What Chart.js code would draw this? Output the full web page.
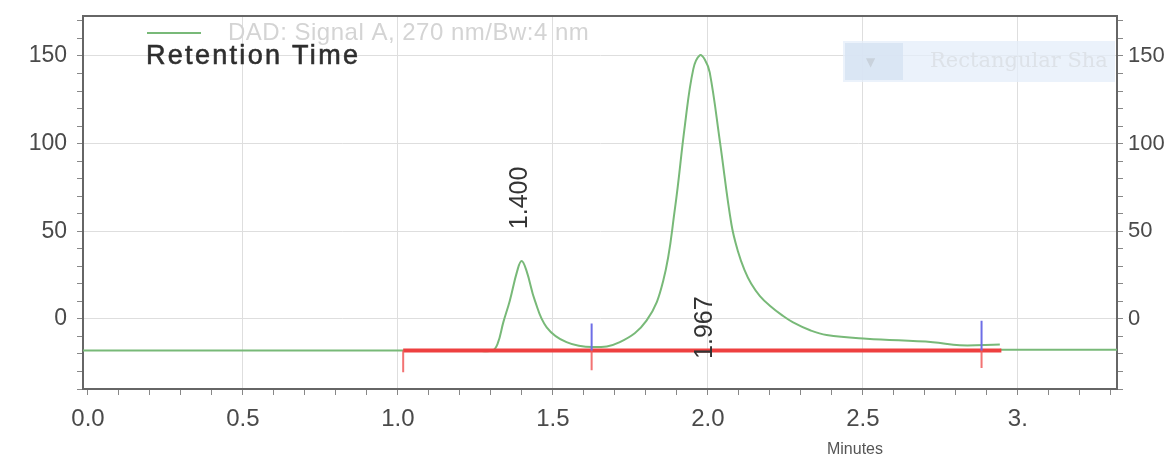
<!DOCTYPE html>
<html>
<head>
<meta charset="utf-8">
<script src="https://cdn.jsdelivr.net/npm/chart.js@4.4.1/dist/chart.umd.min.js"></script>
<style>
    body { margin: 0; background: #fff; }
    #wrap { width: 1173px; height: 459px; position: relative; }
</style>
</head>
<body>
<div id="wrap"><canvas id="chromChart" width="1173" height="459"></canvas></div>
<script>
// retention time (min) and detector response (mAU)
const signalTime = [-0.02, 1.25, 1.305, 1.322, 1.34, 1.361, 1.385, 1.399, 1.415, 1.442, 1.480, 1.544, 1.629, 1.716, 1.802, 1.856, 1.894, 1.926, 1.953, 1.974, 1.990, 2.006, 2.039, 2.076, 2.098, 2.118, 2.14, 2.168, 2.2, 2.24, 2.275, 2.33, 2.383, 2.512, 2.726, 2.813, 2.942];
const signalValue = [-18, -18, -18, -14, -2, 10.4, 27.4, 33, 27.4, 10.4, -4.8, -13.3, -16.1, -13.3, -1, 21.7, 63.2, 110.6, 142.5, 150.4, 148, 140.6, 101, 54, 38, 28, 20, 13, 7.5, 2, -2, -6.5, -9.2, -11.3, -13.3, -15.1, -14.6];
const tailTime = [2.942, 3.35];
const tailValue = [-17.6, -17.6];

// integration baseline and peak start/end markers
const baselineTime = [1.017, 2.947];
const baselineValue = [-18, -18];
const markerTime = [1.017, 1.625, 2.883];
const markerTop = [null, -2.7, -1];
const markerBottom = [-30.4, -29.3, -28];

// peak labels
const peakLabels = ['1.400', '1.967'];
const peakLabelTime = [1.394, 1.99];
const peakLabelValue = [69, -5];

const xTickValues = [0.0, 0.5, 1.0, 1.5, 2.0, 2.5, 3.0];
const xTickLabels = ['0.0', '0.5', '1.0', '1.5', '2.0', '2.5', '3.'];
const yTickValues = [0, 50, 100, 150];

const GREEN = 'rgb(120,185,120)';
const RED = 'rgb(238,64,64)';
const BLUE = 'rgb(110,110,230)';
const AXIS = '#666';

const toPoints = (xs, ys) => xs.map((x, i) => ({ x: x, y: ys[i] }));

const redTicks = [];
const blueTicks = [];
markerTime.forEach((t, i) => {
    redTicks.push({ x: t, y: baselineValue[0] }, { x: t, y: markerBottom[i] }, { x: t, y: null });
    if (markerTop[i] !== null) {
        blueTicks.push({ x: t, y: markerTop[i] }, { x: t, y: baselineValue[0] }, { x: t, y: null });
    }
});

const isMultiple = (v, step) => Math.abs(v / step - Math.round(v / step)) < 1e-6;

const minorTicks = (scale, from, to, step) => {
    const ticks = [];
    for (let v = from; v <= to + 1e-9; v += step) ticks.push({ value: Math.round(v * 100) / 100 });
    scale.ticks = ticks;
};

const decorPlugin = {
    id: 'decor',
    beforeDatasetsDraw(chart) {
        const ctx = chart.ctx;
        ctx.save();
        // faint "Rectangular Shape" toolbar box
        ctx.fillStyle = 'rgba(228,238,249,0.75)';
        ctx.fillRect(843, 41, 272, 41);
        ctx.fillStyle = 'rgba(214,226,243,0.8)';
        ctx.fillRect(845, 43, 58, 37);
        ctx.fillStyle = '#c9d2dc';
        ctx.font = '12px "DejaVu Sans"';
        ctx.fillText('\u25BC', 866, 66);
        ctx.fillStyle = '#dde2e8';
        ctx.font = '21px "DejaVu Serif"';
        ctx.textBaseline = 'middle';
        ctx.fillText('Rectangular Sha', 930, 62);
        ctx.restore();
    },
    afterDatasetsDraw(chart) {
        const ctx = chart.ctx;
        const area = chart.chartArea;
        const xs = chart.scales.x;
        const ys = chart.scales.y;
        ctx.save();
        // top frame line
        ctx.strokeStyle = AXIS;
        ctx.lineWidth = 2;
        ctx.beginPath();
        ctx.moveTo(area.left, area.top);
        ctx.lineTo(area.right, area.top);
        ctx.stroke();

        // legend line and signal name
        ctx.strokeStyle = GREEN;
        ctx.lineWidth = 2;
        ctx.beginPath();
        ctx.moveTo(147, 33);
        ctx.lineTo(201, 33);
        ctx.stroke();
        ctx.fillStyle = '#d4d4d4';
        ctx.font = '24px "Liberation Sans"';
        ctx.textBaseline = 'middle';
        ctx.letterSpacing = '0.5px';
        ctx.fillText('DAD: Signal A, 270 nm/Bw:4 nm', 228, 33);

        ctx.fillStyle = '#2e2e2e';
        ctx.strokeStyle = '#2e2e2e';
        ctx.lineWidth = 0.6;
        ctx.font = '27px "Liberation Sans"';
        ctx.letterSpacing = '2.3px';
        ctx.fillText('Retention Time', 146, 57);
        ctx.strokeText('Retention Time', 146, 57);
        ctx.letterSpacing = '0px';

        // rotated peak labels
        ctx.font = '25px "Liberation Sans"';
        ctx.fillStyle = '#333';
        ctx.textAlign = 'center';
        peakLabels.forEach((lab, i) => {
            const px = xs.getPixelForValue(peakLabelTime[i]);
            const py = ys.getPixelForValue(peakLabelValue[i]);
            ctx.save();
            ctx.translate(px, py);
            ctx.rotate(-Math.PI / 2);
            ctx.fillText(lab, 0, 0);
            ctx.restore();
        });

        // axis title
        ctx.font = '16px "Liberation Sans"';
        ctx.fillStyle = '#555';
        ctx.fillText('Minutes', 855, 450);
        ctx.restore();
    }
};

const ctx = document.getElementById('chromChart').getContext('2d');

new Chart(ctx, {
    type: 'line',
    data: {
        datasets: [
            {
                label: 'DAD: Signal A, 270 nm/Bw:4 nm',
                data: toPoints(signalTime, signalValue),
                borderColor: GREEN,
                borderWidth: 2,
                pointRadius: 0,
                tension: 0.4,
                order: 4,
                fill: false
            },
            {
                label: 'tail',
                data: toPoints(tailTime, tailValue),
                borderColor: GREEN,
                borderWidth: 2,
                pointRadius: 0,
                order: 4,
                fill: false
            },
            {
                label: 'baseline',
                data: toPoints(baselineTime, baselineValue),
                borderColor: RED,
                borderWidth: 4,
                pointRadius: 0,
                order: 2,
                fill: false
            },
            {
                label: 'red ticks',
                data: redTicks,
                borderColor: 'rgba(240,90,90,0.85)',
                borderWidth: 2,
                pointRadius: 0,
                spanGaps: false,
                order: 1,
                fill: false
            },
            {
                label: 'blue ticks',
                data: blueTicks,
                borderColor: BLUE,
                borderWidth: 2,
                pointRadius: 0,
                spanGaps: false,
                order: 0,
                fill: false
            }
        ]
    },
    options: {
        responsive: false,
        animation: false,
        parsing: false,
        layout: { padding: { top: 16 } },
        plugins: {
            legend: { display: false },
            tooltip: { enabled: false }
        },
        scales: {
            x: {
                type: 'linear',
                min: -0.016,
                max: 3.32,
                afterBuildTicks: (scale) => minorTicks(scale, 0, 3.3, 0.1),
                afterFit: (scale) => {
                    scale.height = 70;
                    scale.paddingLeft = 0;
                    scale.paddingRight = 0;
                },
                ticks: {
                    autoSkip: false,
                    maxRotation: 0,
                    padding: 10,
                    color: '#4a4a4a',
                    font: { family: 'Liberation Sans', size: 24 },
                    callback: (v) => {
                        const idx = xTickValues.findIndex(t => Math.abs(t - v) < 1e-6);
                        return idx >= 0 ? xTickLabels[idx] : '';
                    }
                },
                grid: {
                    color: (c) => (c.tick && isMultiple(c.tick.value, 0.5) && c.tick.value > 0) ? '#dedede' : 'rgba(0,0,0,0)',
                    tickColor: '#888',
                    tickLength: 6,
                    lineWidth: 1
                },
                border: { color: AXIS, width: 2 }
            },
            y: {
                type: 'linear',
                position: 'left',
                min: -40,
                max: 172.8,
                afterBuildTicks: (scale) => minorTicks(scale, -40, 170, 10),
                afterFit: (scale) => {
                    scale.width = 83;
                    scale.paddingTop = 0;
                    scale.paddingBottom = 0;
                },
                ticks: {
                    autoSkip: false,
                    padding: 10,
                    color: '#4a4a4a',
                    font: { family: 'Liberation Sans', size: 23 },
                    callback: (v) => yTickValues.includes(v) ? String(v) : ''
                },
                grid: {
                    color: (c) => (c.tick && yTickValues.includes(c.tick.value)) ? '#dedede' : 'rgba(0,0,0,0)',
                    tickColor: '#888',
                    tickLength: 6
                },
                border: { color: AXIS, width: 2 }
            },
            y2: {
                type: 'linear',
                position: 'right',
                min: -40,
                max: 172.8,
                afterBuildTicks: (scale) => minorTicks(scale, -40, 170, 10),
                afterFit: (scale) => {
                    scale.width = 56;
                    scale.paddingTop = 0;
                    scale.paddingBottom = 0;
                },
                ticks: {
                    autoSkip: false,
                    padding: 5,
                    color: '#4a4a4a',
                    font: { family: 'Liberation Sans', size: 22 },
                    callback: (v) => yTickValues.includes(v) ? String(v) : ''
                },
                grid: {
                    drawOnChartArea: false,
                    tickColor: '#888',
                    tickLength: 6
                },
                border: { color: AXIS, width: 2 }
            }
        }
    },
    plugins: [decorPlugin]
});
</script>
</body>
</html>
